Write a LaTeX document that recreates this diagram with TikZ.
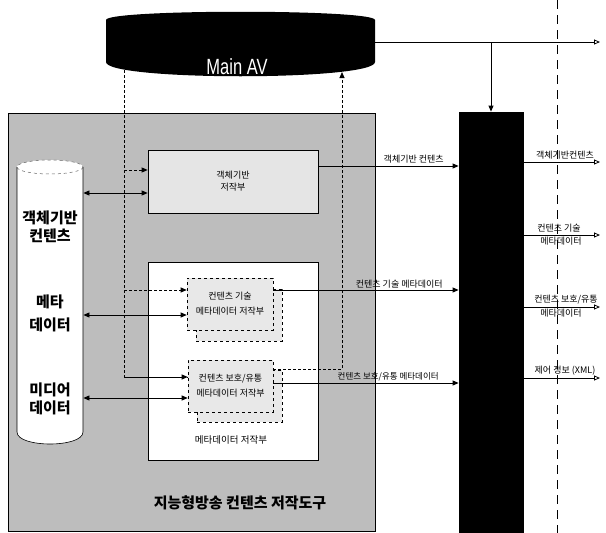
\documentclass[tikz,border=0pt]{standalone}
\usepackage{fontspec}
\setmainfont{Noto Sans CJK KR}
\newfontfamily\avfont{Liberation Sans}
\usetikzlibrary{arrows.meta,calc}
\begin{document}
\begin{tikzpicture}[x=1pt,y=-1pt,line width=0.8pt,
  tip/.style={-{Triangle[length=6pt,width=5pt]}},
  bi/.style={{Triangle[length=6pt,width=5pt]}-{Triangle[length=6pt,width=5pt]}},
  outarr/.style={-{Triangle[open,length=6pt,width=5pt,fill=white]}},
  dsh/.style={dash pattern=on 3pt off 2pt},
  lbl/.style={font=\fontsize{9}{10.5}\selectfont,inner sep=1pt,align=center},
  dblbl/.style={font=\fontsize{15}{17}\bfseries\selectfont,align=center,inner sep=0pt},
  ghost/.style={inner sep=0pt,draw=none},
  subbox/.style={draw,dashed,fill=black!9,line width=0.6pt,inner sep=0pt,align=center,
     font=\fontsize{9}{15}\selectfont},
]
\useasboundingbox (0,0) rectangle (606,533);

% long dashed vertical guide
\coordinate (gtop) at (557,0);
\coordinate (gbot) at (557,533);
\draw[line width=0.8pt,dash pattern=on 9pt off 6pt] (gtop) -- (gbot);

% outer tool box
\node[draw,fill=black!26,line width=0.7pt,minimum width=367pt,minimum height=418pt,inner sep=0pt]
  (tool) at (191.5,322) {};
\node[font=\fontsize{15}{17}\bfseries\selectfont,inner sep=0pt] (toollbl) at (240,503) {지능형방송 컨텐츠 저작도구};

% Main AV
\node[ghost,minimum width=269pt,minimum height=62pt] (mainav) at (240.5,42) {};
\fill[black,rounded corners=4pt] (106,24) .. controls (106,9) and (375,9) .. (375,24) -- (375,58)
   .. controls (375,81) and (106,81) .. (106,58) -- cycle;
\node[font=\avfont\fontsize{22}{22}\selectfont,text=white,xscale=0.75,inner sep=0pt] (avlbl) at (237,67) {Main AV};
\coordinate (avL) at (124,70);
\coordinate (avR) at (342,72);
\coordinate (avend) at (600,42);

% black bus
\node[fill=black,draw=black,minimum width=64pt,minimum height=421pt,inner sep=0pt] (bus) at (491,322.5) {};

% database cylinder
\fill[white] (17,167) -- (17,432) .. controls (17,448) and (83,448) .. (83,432) -- (83,167) -- cycle;
\fill[white] (50,167) ellipse [x radius=33, y radius=7];
\draw[line width=0.6pt] (17,167) -- (17,432) .. controls (17,448) and (83,448) .. (83,432) -- (83,167);
\draw[line width=0.5pt,dashed,black!60] (50,167) ellipse [x radius=33, y radius=7];
\node[ghost,minimum width=66pt,minimum height=278pt] (db) at (50,305) {};
\node[dblbl] (db1) at (50,227) {객체기반\\[1pt]컨텐츠};
\node[dblbl] (db2) at (50,313) {메타\\[6pt]데이터};
\node[dblbl] (db3) at (50,399) {미디어\\[1pt]데이터};

% object-based authoring box
\node[draw,fill=black!10,line width=0.7pt,minimum width=170pt,minimum height=63pt,inner sep=0pt,
  align=center,font=\fontsize{9}{12}\selectfont] (box1) at (233,181.5) {객체기반\\저작부};

% metadata authoring box
\node[draw,fill=white,line width=0.7pt,minimum width=170pt,minimum height=198pt,inner sep=0pt] (meta) at (233,361) {};
\node[font=\fontsize{9.5}{11}\selectfont,inner sep=0pt] (metalbl) at (231,440) {메타데이터 저작부};

% sub boxes with stacked shadows
\node[subbox,minimum width=86pt,minimum height=52pt] (box2s) at (239,315) {};
\node[subbox,minimum width=86pt,minimum height=52pt] (box2) at (230,304) {컨텐츠 기술\\메타데이터 저작부};
\node[subbox,minimum width=85pt,minimum height=52pt] (box3s) at (239.5,396) {};
\node[subbox,minimum width=85pt,minimum height=52pt] (box3) at (230.5,386) {컨텐츠 보호/유통\\메타데이터 저작부};

% dashed control line from Main AV
\coordinate (d1) at ([yshift=11.5pt]box1.west);
\coordinate (d2) at ([yshift=14pt]box2.west);
\coordinate (d3) at ([yshift=9pt]box3.west);
\draw[dsh] (avL) -- (avL |- d3) -- (d3);
\draw[dsh,tip] (avL |- d3) -- (d3);
\draw[dsh,tip] (avL |- d1) -- (d1);
\draw[dsh,tip] (avL |- d2) -- (d2);

% dashed feedback to Main AV
\coordinate (f3) at ([yshift=17pt]box3.east);
\draw[dsh,tip] (f3) -- (avR |- f3) -- (avR);

% bidirectional data links
\coordinate (b1) at ([yshift=-11.5pt]box1.west);
\coordinate (b2) at ([yshift=-11pt]box2.west);
\coordinate (b3) at ([yshift=-12pt]box3.west);
\draw[bi] (b1 -| db.east) -- (b1);
\draw[bi] (b2 -| db.east) -- (b2);
\draw[bi] (b3 -| db.east) -- (b3);

% outputs to bus
\coordinate (o1) at ([yshift=15.5pt]box1.east);
\coordinate (o2) at ([yshift=14pt]box2.east);
\coordinate (o3) at ([yshift=3pt]box3.east);
\draw[tip] (o1) -- (o1 -| bus.west) node[lbl,pos=0.68,above=1pt] {객체기반 컨텐츠};
\draw[tip] (o2) -- (o2 -| bus.west) node[lbl,pos=0.68,above=0pt] {컨텐츠 기술 메타데이터};
\draw[tip] (o3) -- (o3 -| bus.west) node[lbl,pos=0.62,above=1pt,font=\fontsize{8.5}{10}\selectfont] {컨텐츠 보호/유통 메타데이터};

% Main AV output and branch
\draw[outarr] (mainav.east) -- (avend);
\coordinate (split) at (bus.north |- avend);
\draw[tip] (split) -- (bus.north);

% bus outputs
\coordinate (r1) at (600,162);
\coordinate (r2) at (600,235);
\coordinate (r3) at (600,307);
\coordinate (r4) at (600,378);
\draw[outarr] (r1 -| bus.east) -- (r1);
\draw[outarr] (r2 -| bus.east) -- (r2);
\draw[outarr] (r3 -| bus.east) -- (r3);
\draw[outarr] (r4 -| bus.east) -- (r4);
\node[lbl,anchor=south] (l1) at (565,161) {객체기반컨텐츠};
\node[lbl,anchor=south] (l2a) at (559,234) {컨텐츠 기술};
\node[lbl,anchor=north] (l2b) at (561,236) {메타데이터};
\node[lbl,anchor=south] (l3a) at (566,306) {컨텐츠 보호/유통};
\node[lbl,anchor=north] (l3b) at (561,308) {메타데이터};
\node[lbl,anchor=south] (l4) at (565,377) {제어 정보 (XML)};
\end{tikzpicture}
\end{document}
